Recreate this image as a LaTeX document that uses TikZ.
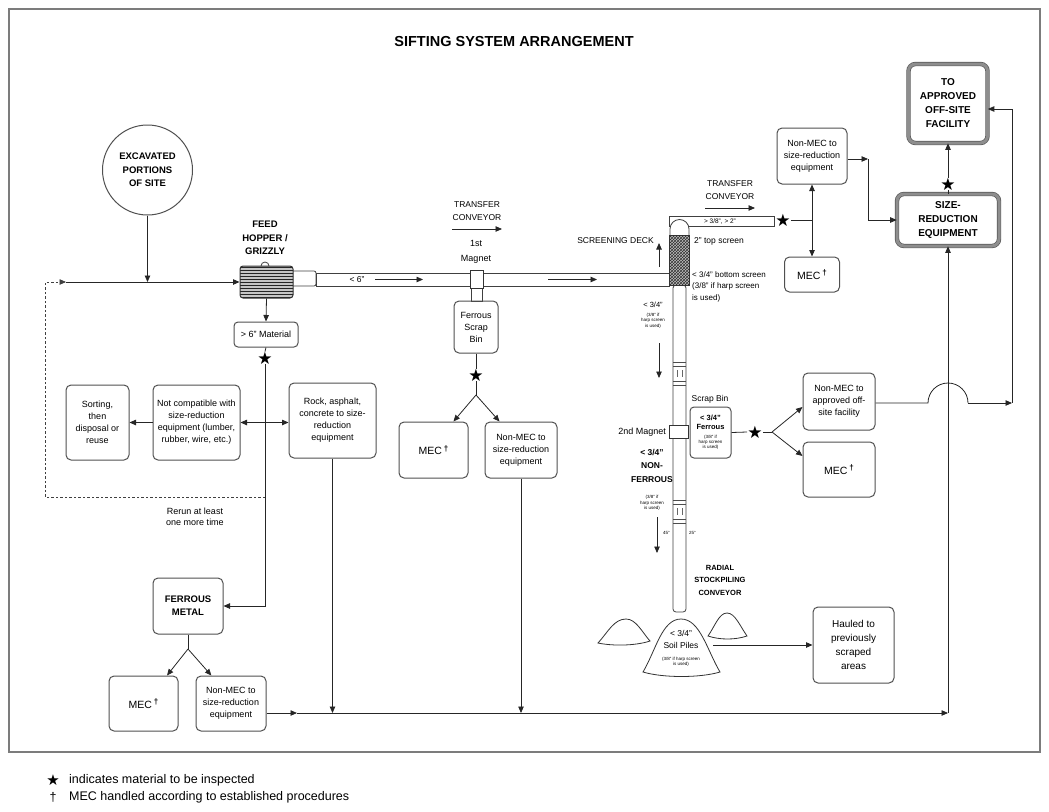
\documentclass[tikz,border=0pt]{standalone}
\usepackage{fontspec}
\setmainfont{Liberation Sans}
\newfontfamily\symfont{DejaVu Sans}
\usepackage{xcolor}
\usepackage{tikz}
\usetikzlibrary{positioning, arrows.meta, patterns}
\definecolor{framegray}{HTML}{7C7C7C}
\definecolor{boxline}{HTML}{505050}
\definecolor{heavygray}{HTML}{8E8E8E}

\tikzset{
  box/.style={draw=boxline, line width=1pt, rounded corners=5pt, align=center,
    inner sep=1pt, font=\fontsize{9}{12}\selectfont},
  headbox/.style={box, font=\fontsize{9.5}{13}\selectfont\bfseries},
  bigbox/.style={box, font=\fontsize{10}{14}\selectfont\bfseries, draw=black!65,
    double=heavygray, double distance=3pt, line width=0.7pt, rounded corners=7pt},
  lbl/.style={align=center, inner sep=0pt, font=\fontsize{8.5}{12.5}\selectfont},
  tinylbl/.style={align=center, inner sep=0pt, font=\fontsize{4.5}{5.3}\selectfont},
  hd/.style={align=center, inner sep=0pt, font=\fontsize{9.5}{13.5}\selectfont\bfseries},
  insp/.style={inner sep=0pt, font=\symfont\fontsize{17}{17}\selectfont},
  flow/.style={draw=black!85, line width=0.8pt},
  arr/.style={flow, -{Triangle[length=6.5pt,width=5.5pt]}},
  arrboth/.style={flow, {Triangle[length=6.5pt,width=5.5pt]}-{Triangle[length=6.5pt,width=5.5pt]}},
  belt/.style={draw=black!75, line width=0.8pt, fill=white},
  pile/.style={draw=black!80, line width=0.8pt, fill=white},
}
\newcommand{\mectag}{{\fontsize{10.5}{12}\selectfont MEC\,\raisebox{0.6ex}{\bfseries\fontsize{8}{8}\selectfont †}}}
\newcommand{\smallnote}[1]{{\fontsize{4.5}{5.3}\selectfont\begin{tabular}[t]{@{}c@{}}#1\end{tabular}}}

\begin{document}
\begin{tikzpicture}[x=1pt, y=-1pt]
  \useasboundingbox (0,0) rectangle (1049,811);
  \draw[framegray, line width=2pt] (9,9) rectangle (1040,752);
  \node[font=\fontsize{14.5}{16}\selectfont\bfseries] (title) at (514,42) {SIFTING SYSTEM ARRANGEMENT};

  % feed side
  \node[draw=boxline, line width=1pt, circle, minimum size=90pt, hd] (excav) at (147.5,170) {EXCAVATED\\PORTIONS\\OF SITE};
  \node[hd] (hopperlbl) at (265,238) {FEED\\HOPPER /\\GRIZZLY};
  \draw[belt, rounded corners=2pt] (290,271) rectangle (316,286);
  \draw[belt] (261,266) arc[start angle=180, end angle=0, radius=4pt];
  \node[draw=black!80, line width=1pt, rounded corners=3pt, minimum width=53pt, minimum height=32pt,
    preaction={fill=gray!45}, pattern=horizontal lines, pattern color=black!85] (hopper) at (266.5,282) {};
  \node[box, minimum width=64pt, minimum height=25pt, rounded corners=4pt] (mat6) at (266,334.5) {> 6" Material};
  \node[insp] (star1) at (265,358) {★};
  \node[box, minimum width=63pt, minimum height=75pt] (sorting) at (97.5,422.5) {Sorting,\\then\\disposal or\\reuse};
  \node[box, minimum width=87pt, minimum height=75pt] (notcomp) at (196.5,422.5) {Not compatible with\\size-reduction\\equipment (lumber,\\rubber, wire, etc.)};
  \node[box, minimum width=87pt, minimum height=75pt] (rock) at (332.5,420.5) {Rock, asphalt,\\concrete to size-\\reduction\\equipment};
  \node[lbl, font=\fontsize{9}{11.5}\selectfont] (rerun) at (195,517) {Rerun at least\\one more time};
  \node[headbox, minimum width=70pt, minimum height=56pt] (ferrous) at (188,606) {FERROUS\\METAL};
  \node[box, minimum width=69pt, minimum height=55pt] (mec1) at (143.5,703.5) {\mectag};
  \node[box, minimum width=70pt, minimum height=55pt] (nonmec1) at (231,703.5) {Non-MEC to\\size-reduction\\equipment};

  % transfer conveyor and 1st magnet
  \draw[belt] (316,273) rectangle (669,286);
  \node[lbl] (lt6) at (357,279.5) {< 6"};
  \draw[belt] (471,288) rectangle (482,301);
  \node[draw=black!80, line width=0.8pt, fill=white, minimum width=13pt, minimum height=18pt, inner sep=0pt] (mag1) at (476.5,279) {};
  \node[lbl, font=\fontsize{9}{15}\selectfont] (mag1lbl) at (476,252) {1st\\Magnet};
  \node[lbl] (trans1lbl) at (477,211) {TRANSFER\\CONVEYOR};
  \node[box, minimum width=44pt, minimum height=52pt] (scrap1) at (476,327) {Ferrous\\Scrap\\Bin};
  \node[insp] (star2) at (476,375) {★};
  \node[box, minimum width=69pt, minimum height=56pt] (mec2) at (433.5,450) {\mectag};
  \node[box, minimum width=72pt, minimum height=56pt] (nonmec2) at (521,450) {Non-MEC to\\size-reduction\\equipment};

  % screening deck and radial conveyor
  \draw[belt, rounded corners=3pt] (673,285) rectangle (686,612);
  \foreach \yy in {362,366,381,385,500,504,519,523}
    \draw[black!70, line width=0.5pt] (673,\yy) -- (686,\yy);
  \foreach \yy in {370,508}
    \draw[black!60, line width=0.5pt] (677,\yy) -- (677,\yy+7) (682,\yy) -- (682,\yy+7);
  \draw[belt] (669,216) rectangle (774,226);
  \node[font=\fontsize{6.5}{7}\selectfont, inner sep=0pt] (topcut) at (720,221.5) {> 3/8", > 2"};
  \draw[belt] (670,236) -- (670,229) arc[start angle=180, end angle=0, radius=9.5pt] -- (689,236);
  \node[draw=black!80, line width=0.8pt, minimum width=20pt, minimum height=50pt, inner sep=0pt,
    preaction={fill=gray!50}, pattern=crosshatch, pattern color=black!80] (deck) at (679,260) {};
  \node[lbl, anchor=east] (decklbl) at (654,241) {SCREENING DECK};
  \node[lbl, anchor=west] (topscr) at (694,241) {2" top screen};
  \node[lbl, anchor=north west, align=left, font=\fontsize{8}{11.5}\selectfont] (botscr) at (692,271) {< 3/4" bottom screen\\(3/8" if harp screen\\is used)};
  \node[lbl, anchor=north, font=\fontsize{7.5}{9}\selectfont] (lt34) at (653,302) {< 3/4"\\\smallnote{(3/8" if\\harp screen\\is used)}};
  \node[draw=black!80, line width=0.8pt, fill=white, minimum width=19pt, minimum height=13pt, inner sep=0pt] (mag2) at (678.5,431.5) {};
  \node[lbl, anchor=east, font=\fontsize{9}{11}\selectfont] (mag2lbl) at (666,432) {2nd Magnet};
  \node[box, rounded corners=4pt, minimum width=41pt, minimum height=51pt, inner sep=0pt, font=\fontsize{7.5}{9}\selectfont] (scrap2) at (710.5,432.5) {\textbf{< 3/4"}\\\textbf{Ferrous}\\\smallnote{(3/8" if\\harp screen\\is used)}};
  \node[lbl, font=\fontsize{8.5}{10}\selectfont] (scrap2lbl) at (710,399) {Scrap Bin};
  \node[insp] (star5) at (755,432) {★};
  \node[box, minimum width=72pt, minimum height=57pt] (nonmec4) at (839,401.5) {Non-MEC to\\approved off-\\site facility};
  \node[box, minimum width=72pt, minimum height=55pt] (mec4) at (839,469.5) {\mectag};
  \node[lbl, anchor=north, font=\fontsize{8.5}{13.5}\selectfont\bfseries] (nonferr) at (652,449) {< 3/4"\\NON-\\FERROUS};
  \node[tinylbl] (nonferrnote) at (652,503) {\smallnote{(3/8" if\\harp screen\\is used)}};
  \node[tinylbl, anchor=east] (ang45) at (670,533) {45°};
  \node[tinylbl, anchor=west] (ang25) at (689,533) {25°};
  \node[hd, font=\fontsize{7.5}{12.5}\selectfont\bfseries] (radial) at (720,580) {RADIAL\\STOCKPILING\\CONVEYOR};

  % soil piles
  \draw[pile] (598,643) .. controls (608,632) and (614,619) .. (626,619) .. controls (636,619) and (642,632) .. (650,641) .. controls (635,646) and (612,646) .. (598,643) -- cycle;
  \draw[pile] (708,636) .. controls (715,626) and (719,613) .. (727,613) .. controls (735,613) and (740,626) .. (747,636) .. controls (735,640) and (720,640) .. (708,636) -- cycle;
  \draw[pile] (643,672) .. controls (656,650) and (662,619) .. (681,619) .. controls (700,619) and (707,650) .. (720,672) .. controls (700,678) and (663,678) .. (643,672) -- cycle;
  \node[lbl, anchor=north, font=\fontsize{8.5}{12}\selectfont] (soil) at (681,630) {< 3/4"\\Soil Piles\\\smallnote{(3/8" if harp screen\\is used)}};
  \node[box, minimum width=81pt, minimum height=76pt, font=\fontsize{10}{14}\selectfont] (hauled) at (853.5,645) {Hauled to\\previously\\scraped\\areas};

  % top right
  \node[lbl] (trans2lbl) at (730,190) {TRANSFER\\CONVEYOR};
  \node[insp] (star3) at (783,220) {★};
  \node[box, minimum width=70pt, minimum height=56pt] (nonmec3) at (812,156) {Non-MEC to\\size-reduction\\equipment};
  \node[box, minimum width=55pt, minimum height=35pt] (mec3) at (812,274.5) {\mectag};
  \node[bigbox, minimum width=102pt, minimum height=52pt] (sizered) at (948,220) {SIZE-\\REDUCTION\\EQUIPMENT};
  \node[bigbox, minimum width=79pt, minimum height=79pt] (toapp) at (948,103.5) {TO\\APPROVED\\OFF-SITE\\FACILITY};
  \node[insp] (star4) at (948,184) {★};

  % connectors
  \coordinate (feedjoin) at (147.5,282);
  \coordinate (loopA) at (45,282);
  \coordinate (feedtip) at (66,282);
  \coordinate (loopB) at (45,497);
  \coordinate (loopC) at (265,497);
  \draw[arr] (excav) -- (feedjoin);
  \draw[arr, black!75, dash pattern=on 2.5pt off 2pt] (loopC) -- (loopB) -- (loopA) -- (feedtip);
  \draw[arr] (feedtip) -- (hopper.west);
  \draw[arr] (hopper.south) -- (mat6.north);
  \draw[flow] (mat6.south) -- (star1.north);
  \draw[arr] (star1.south) |- (ferrous.east);
  \draw[arrboth] (notcomp.east) -- (notcomp.east -| rock.west);
  \draw[arr] (notcomp.west) -- (sorting.east);
  \coordinate (fbr) at (188,649);
  \draw[flow] (ferrous.south) -- (fbr);
  \draw[arr] (fbr) -- (mec1.50);
  \draw[arr] (fbr) -- (nonmec1.125);

  \coordinate (btmA) at (297,713);
  \coordinate (btmR) at (948,713);
  \draw[arr] (nonmec1.east |- btmA) -- (btmA);
  \draw[arr] (btmA) -- (btmR);
  \draw[arr] (btmR) -- (sizered.south);
  \draw[arr] (rock.south) -- (rock.south |- btmA);
  \draw[arr] (nonmec2.south) -- (nonmec2.south |- btmA);

  \coordinate (b1s) at (375,279.5);
  \coordinate (b1e) at (423,279.5);
  \coordinate (b2s) at (548,279.5);
  \coordinate (b2e) at (597,279.5);
  \draw[arr] (b1s) -- (b1e);
  \draw[arr] (b2s) -- (b2e);
  \coordinate (t1s) at (452,229);
  \coordinate (t1e) at (502,229);
  \draw[arr] (t1s) -- (t1e);
  \coordinate (t2s) at (705,208);
  \coordinate (t2e) at (755,208);
  \draw[arr] (t2s) -- (t2e);
  \coordinate (upS) at (659,267);
  \coordinate (upE) at (659,243);
  \draw[arr] (upS) -- (upE);
  \coordinate (dn1s) at (659,343);
  \coordinate (dn1e) at (659,378);
  \draw[arr] (dn1s) -- (dn1e);
  \coordinate (dn2s) at (657,517);
  \coordinate (dn2e) at (657,553);
  \draw[arr] (dn2s) -- (dn2e);

  \coordinate (sbr) at (476,395);
  \draw[flow] (scrap1.south) -- (star2.north);
  \draw[flow] (star2.south) -- (sbr);
  \draw[arr] (sbr) -- (mec2.55);
  \draw[arr] (sbr) -- (nonmec2.127);

  \coordinate (tj) at (812,220);
  \draw[flow] (star3.east) -- (tj);
  \draw[arr] (tj) -- (nonmec3.south);
  \draw[arr] (tj) -- (mec3.north);
  \coordinate (nj) at (868,159);
  \draw[arr] (nonmec3.east |- nj) -- (nj);
  \draw[arr] (nj) |- (sizered.west);
  \draw[flow] (sizered.north) -- (star4.south);
  \draw[arr] (star4.north) -- (toapp.south);

  \coordinate (br2) at (772,432);
  \draw[flow] (scrap2.east) -- (star5.west);
  \draw[flow] (star5.east) -- (br2);
  \draw[arr] (br2) -- ([yshift=-5.5pt]nonmec4.west);
  \draw[arr] (br2) -- ([yshift=13.5pt]mec4.west);
  \coordinate (jL) at (928,403);
  \coordinate (jR) at (968,403);
  \coordinate (rc) at (1012,403);
  \coordinate (rt) at (1012,109);
  \draw[flow] (nonmec4.east |- jL) -- (jL) arc[start angle=180, end angle=0, radius=20pt];
  \draw[arr] (jR) -- (rc);
  \draw[arr] (rc) -- (rt) -- (toapp.east |- rt);

  \coordinate (soilout) at (713,645);
  \draw[arr] (soilout) -- (hauled.west |- soilout);

  % notes
  \node[insp, font=\symfont\fontsize{15}{15}\selectfont] (fnstar) at (53,780) {★};
  \node[anchor=west, inner sep=0pt, font=\fontsize{12.5}{14}\selectfont] (fn1) at (69,780) {indicates material to be inspected};
  \node[inner sep=0pt, font=\fontsize{12.5}{14}\selectfont] (fndag) at (53,797) {†};
  \node[anchor=west, inner sep=0pt, font=\fontsize{12.5}{14}\selectfont] (fn2) at (69,797) {MEC handled according to established procedures};
\end{tikzpicture}
\end{document}
